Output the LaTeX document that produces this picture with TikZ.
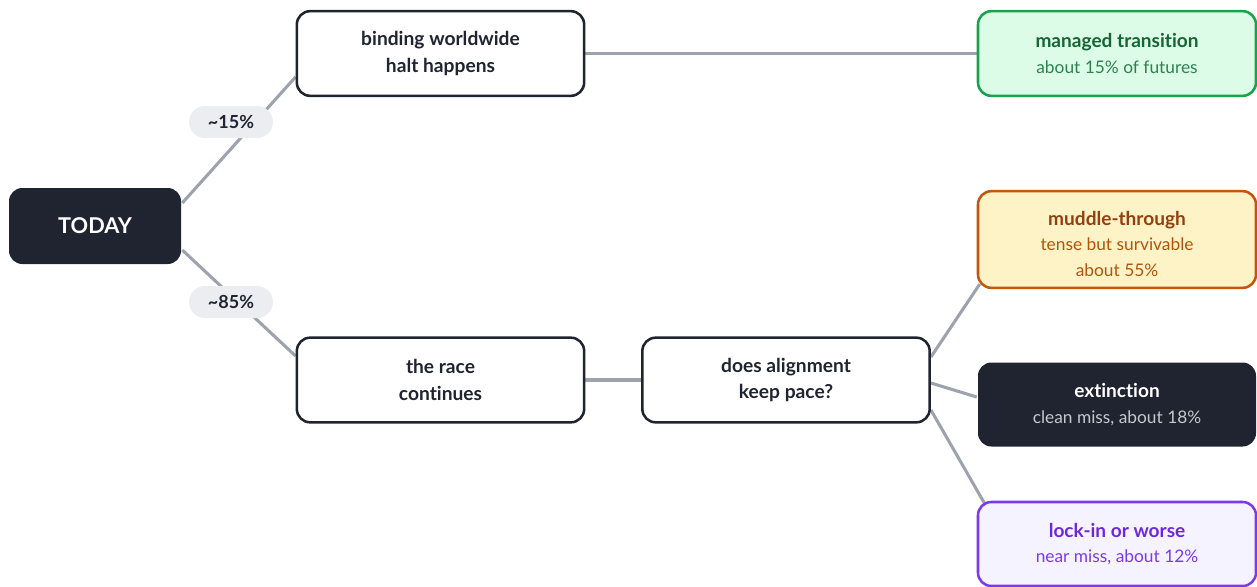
\documentclass[tikz,border=0pt]{standalone}
\usepackage{fontspec}
\setmainfont[Ligatures={NoCommon}]{Lato}
\usetikzlibrary{backgrounds}
\definecolor{ink}{HTML}{1F2430}
\definecolor{conn}{HTML}{9CA3AF}
\definecolor{pillbg}{HTML}{ECEDF1}
\definecolor{gFill}{HTML}{DCFCE7}
\definecolor{gLine}{HTML}{16A34A}
\definecolor{gTitle}{HTML}{166534}
\definecolor{gSub}{HTML}{2F8050}
\definecolor{oFill}{HTML}{FEF3C7}
\definecolor{oLine}{HTML}{C2570C}
\definecolor{oTitle}{HTML}{92400E}
\definecolor{oSub}{HTML}{B45309}
\definecolor{xSub}{HTML}{C4C8D0}
\definecolor{pFill}{HTML}{F5F3FF}
\definecolor{pLine}{HTML}{7C3AED}
\definecolor{pTitle}{HTML}{6D28D9}
\definecolor{pSub}{HTML}{7C3AED}
\newcommand{\ttl}[2]{{\fontsize{14.3}{19}\selectfont\bfseries\color{#1}#2}}
\begin{document}
\begin{tikzpicture}[x=0.75pt,y=-0.75pt,
  box/.style={rounded corners=10pt, line width=1.9pt, align=center, inner sep=0pt,
    font=\fontsize{14.4}{20}\selectfont\bfseries, text=ink},
  plainbox/.style={box, draw=ink, fill=white, minimum width=215.5pt, minimum height=63.5pt},
  outbox/.style={box, minimum width=208.5pt, font=\fontsize{13}{19}\selectfont},
  pill/.style={fill=pillbg, rounded corners=12pt, minimum width=63pt, minimum height=24pt,
    inner sep=0pt, font=\fontsize{13.5}{14}\selectfont\bfseries, text=ink},
  link/.style={draw=conn, line width=2.3pt}]
\useasboundingbox (0,0) rectangle (1257,586);

\node[box, fill=ink, text=white, minimum width=129pt, minimum height=57pt,
  font=\fontsize{16.3}{18}\selectfont\bfseries] (today) at (95,226) {TODAY};

\node[plainbox] (bind) at (440.5,53.5) {binding worldwide\\halt happens};
\node[plainbox] (race) at (440.5,380) {the race\\continues};
\node[plainbox] (align) at (786,380) {does alignment\\keep pace?};

\node[outbox, draw=gLine, fill=gFill, minimum height=63.5pt] (managed) at (1117,53.5)
  {\ttl{gTitle}{managed transition}\\{\color{gSub}about 15\% of futures}};
\node[outbox, draw=oLine, fill=oFill, minimum height=72.5pt] (muddle) at (1117,239.5)
  {\rule{0pt}{17pt}\ttl{oTitle}{muddle-through}\\{\color{oSub}tense but survivable}\\{\color{oSub}about 55\%}};
\node[outbox, fill=ink, minimum height=63pt] (ext) at (1117,404.5)
  {\ttl{white}{extinction}\\{\color{xSub}clean miss, about 18\%}};
\node[outbox, draw=pLine, fill=pFill, minimum height=63pt] (lock) at (1117,544)
  {\ttl{pTitle}{lock-in or worse}\\{\color{pSub}near miss, about 12\%}};

\begin{scope}[on background layer]
\draw[link] ([yshift=17.25pt]today.east) -- ([yshift=-17.6pt]bind.west);
\draw[link] ([yshift=-18pt]today.east) -- ([yshift=18pt]race.west);
\draw[link] (bind.east) -- (managed.west);
\draw[link] (race.east) -- (align.west);
\draw[link] ([yshift=17.25pt]align.east) -- ([shift={(3,-5)}]muddle.south west);
\draw[link] ([yshift=-2.25pt]align.east) -- ([yshift=5.6pt]ext.west);
\draw[link] ([yshift=-22.5pt]align.east) -- ([shift={(8,3)}]lock.north west);
\end{scope}

\node[pill] (p15) at (231,122) {\textasciitilde15\%};
\node[pill] (p85) at (231,302) {\textasciitilde85\%};
\end{tikzpicture}
\end{document}
